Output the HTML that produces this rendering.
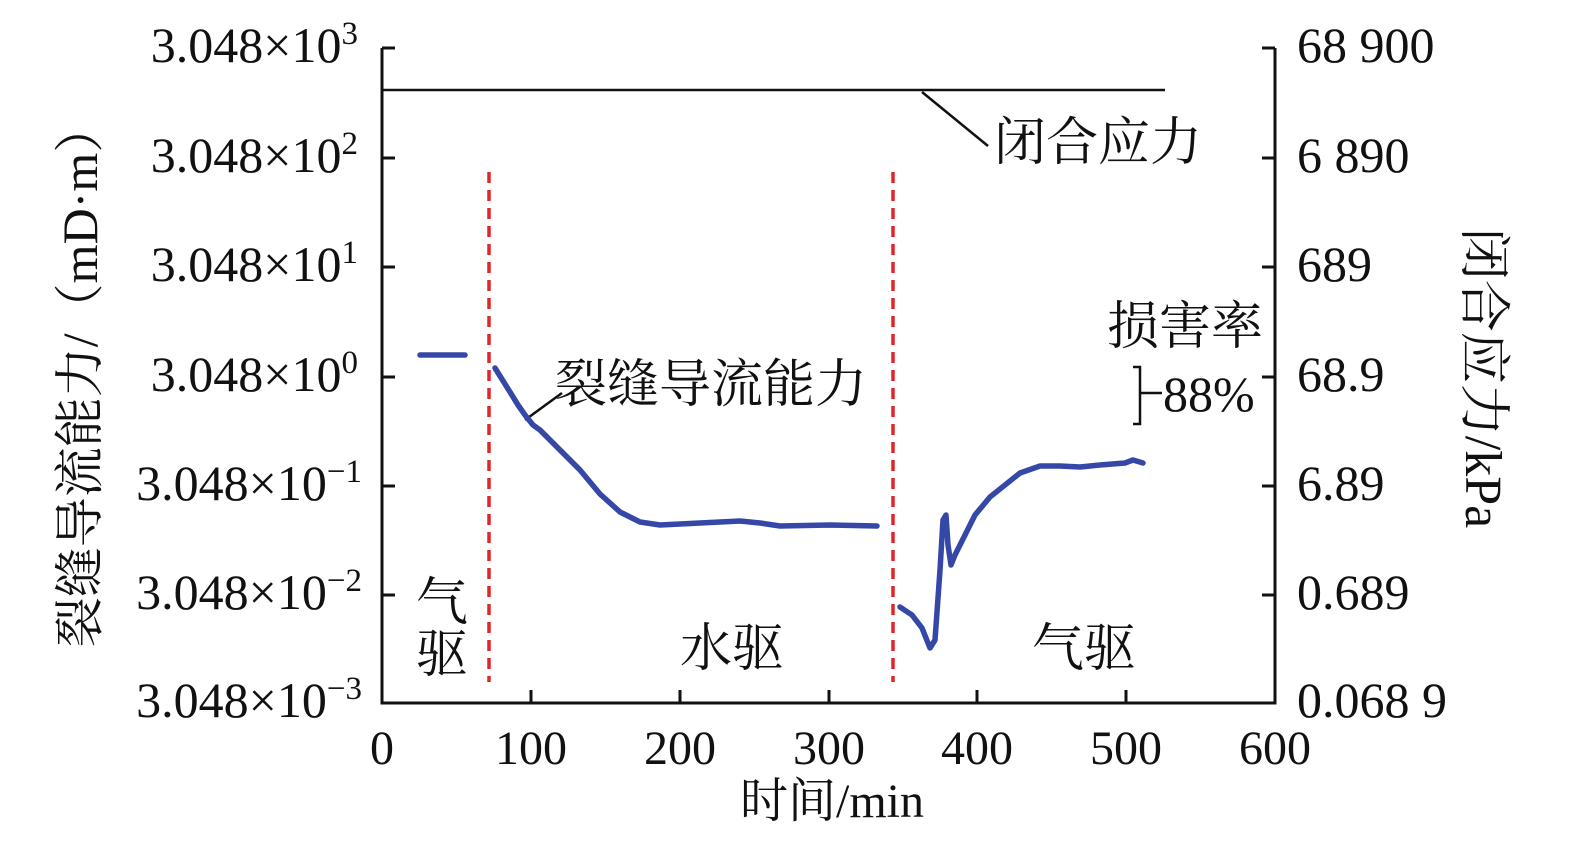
<!DOCTYPE html>
<html><head><meta charset="utf-8"><style>
body{margin:0;background:#fff}
svg text{font-family:"Liberation Serif","Noto Serif CJK SC",serif;fill:#111}
</style></head><body>
<svg width="1575" height="838" viewBox="0 0 1575 838" xmlns="http://www.w3.org/2000/svg">
<g stroke="#111" stroke-width="3" fill="none">
<path d="M382,48 V703 H1275 V48"/>
<path d="M382,48h13M382,158h13M382,267h13M382,377h13M382,486h13M382,595h13"/>
<path d="M1275,48h-13M1275,158h-13M1275,267h-13M1275,377h-13M1275,486h-13M1275,595h-13"/>
<path d="M531,703v-13M680,703v-13M829,703v-13M977,703v-13M1126,703v-13"/>
<path d="M382,90H1165" stroke-width="2.5"/>
<path d="M922,92L988,146" stroke-width="2.5"/>
<path d="M525,420L562,393" stroke-width="2.5"/>
<path d="M1133,367h7v57h-7M1140,393h22" stroke-width="2.5"/>
</g>
<g stroke="#e0262b" stroke-width="3.5" stroke-dasharray="11 7">
<path d="M489,172V682"/><path d="M893,172V682"/>
</g>
<g stroke="#3548a8" stroke-width="5.5" fill="none" stroke-linejoin="round" stroke-linecap="round">
<path d="M420,355H465"/>
<path d="M495,368L510,392L518,405L525,415L533,425L540,430L560,450L580,470L600,494L620,512L640,522L660,525L700,523L740,521L760,523L780,526L830,525L877,526"/>
<path d="M900,607L912,615L922,628L930,648L935,640L940,570L943,520L946,515L948,545L951,565L955,555L965,535L975,515L990,497L1005,485L1020,473L1040,466L1060,466L1080,467L1100,465L1125,463L1133,460L1143,463"/>
</g>
<g font-size="50" text-anchor="end">
<text x="358" y="62">3.048×10<tspan dy="-18" font-size="33">3</tspan></text>
<text x="358" y="172">3.048×10<tspan dy="-18" font-size="33">2</tspan></text>
<text x="358" y="281">3.048×10<tspan dy="-18" font-size="33">1</tspan></text>
<text x="358" y="391">3.048×10<tspan dy="-18" font-size="33">0</tspan></text>
<text x="362" y="500">3.048×10<tspan dy="-18" font-size="33">−1</tspan></text>
<text x="362" y="609">3.048×10<tspan dy="-18" font-size="33">−2</tspan></text>
<text x="362" y="717">3.048×10<tspan dy="-18" font-size="33">−3</tspan></text>
</g>
<g font-size="50">
<text x="1297" y="62">68 900</text>
<text x="1297" y="172">6 890</text>
<text x="1297" y="281">689</text>
<text x="1297" y="391">68.9</text>
<text x="1297" y="500">6.89</text>
<text x="1297" y="609">0.689</text>
<text x="1297" y="717">0.068 9</text>
</g>
<g font-size="48" text-anchor="middle">
<text x="382" y="764">0</text><text x="531" y="764">100</text><text x="680" y="764">200</text>
<text x="829" y="764">300</text><text x="977" y="764">400</text><text x="1126" y="764">500</text><text x="1275" y="764">600</text>
<text x="832" y="817">时间/min</text>
</g>
<text font-size="50" text-anchor="middle" transform="translate(97,375) rotate(-90)">裂缝导流能力/（mD·m）</text>
<text font-size="52" text-anchor="middle" transform="translate(1466,378) rotate(90)">闭合应力/kPa</text>
<g font-size="52">
<text x="994" y="160">闭合应力</text>
<text x="555" y="402">裂缝导流能力</text>
<text x="416" y="620">气</text>
<text x="416" y="672">驱</text>
<text x="680" y="666">水驱</text>
<text x="1032" y="666">气驱</text>
<text x="1107" y="344">损害率</text>
</g>
<text x="1163" y="411" font-size="50">88%</text>
</svg>
</body></html>
